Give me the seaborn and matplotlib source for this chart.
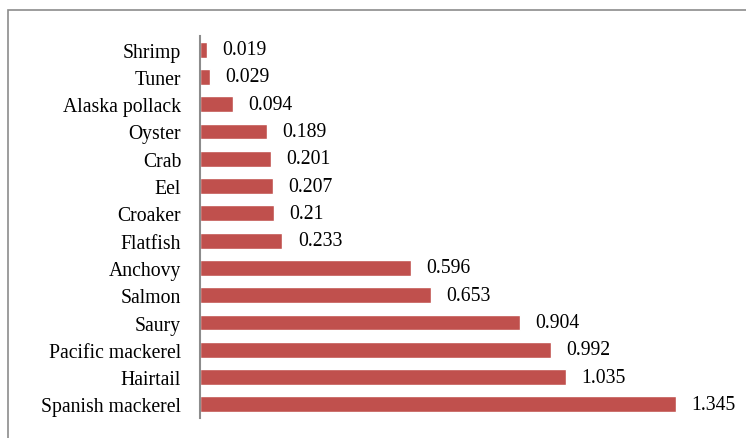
import matplotlib
matplotlib.use("Agg")
import matplotlib.pyplot as plt
import seaborn as sns
import pandas as pd
from matplotlib.patches import Rectangle

species = ["Shrimp", "Tuner", "Alaska pollack", "Oyster", "Crab", "Eel", "Croaker",
           "Flatfish", "Anchovy", "Salmon", "Saury", "Pacific mackerel", "Hairtail",
           "Spanish mackerel"]
values = [0.019, 0.029, 0.094, 0.189, 0.201, 0.207, 0.21,
          0.233, 0.596, 0.653, 0.904, 0.992, 1.035, 1.345]
value_labels = ["0.019", "0.029", "0.094", "0.189", "0.201", "0.207", "0.21",
                "0.233", "0.596", "0.653", "0.904", "0.992", "1.035", "1.345"]

df = pd.DataFrame({"species": species, "value": values})

sns.set_theme(style="white")
plt.rcParams["font.family"] = ["Liberation Serif", "DejaVu Serif"]

fig = plt.figure(figsize=(7.46, 4.39), dpi=100)
ax = fig.add_axes([200 / 746, 20 / 439, 531 / 746, 382 / 439])

sns.barplot(data=df, x="value", y="species", color="#C0504D", saturation=1,
            width=0.58, ax=ax, orient="h")
ax.bar_label(ax.containers[0], labels=value_labels, padding=11, fontsize=14.2,
             color="black")

ax.set_xlim(0, 1.5)
ax.set_ylim(13.5, -0.5)
ax.set_xlabel("")
ax.set_ylabel("")
ax.set_xticks([])
ax.tick_params(axis="y", length=0, pad=13.5, labelsize=14.2, labelcolor="black")
for s in ["top", "right", "bottom"]:
    ax.spines[s].set_visible(False)
ax.spines["left"].set_color("#8c8c8c")
ax.spines["left"].set_linewidth(1.5)

fig.patches.append(Rectangle((8 / 746, -0.2), 1.2, 1.2 - 10.5 / 439,
                             transform=fig.transFigure, fill=False,
                             edgecolor="#8c8c8c", linewidth=1.2))

fig.savefig("out.png", dpi=100)
